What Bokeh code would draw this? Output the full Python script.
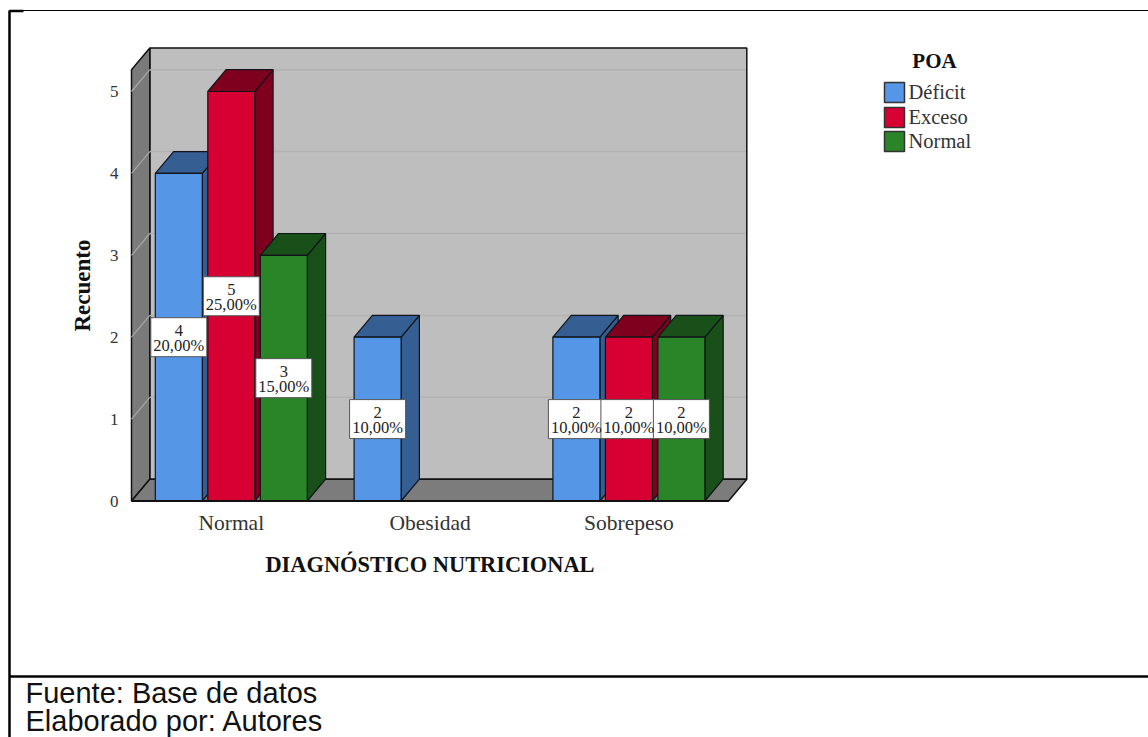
from bokeh.plotting import figure
from bokeh.models import LinearAxis, FixedTicker, Range1d, ColumnDataSource
from bokeh.core.properties import value
from bokeh.embed import file_html
from bokeh.resources import INLINE

# Survey counts by nutritional diagnosis and POA group
categories = ["Normal", "Obesidad", "Sobrepeso"]
series_names = ["Déficit", "Exceso", "Normal"]
deficit = [4, 2, 2]
exceso = [5, 0, 2]
normal = [3, 0, 2]
total = 20
y_ticks = [0, 1, 2, 3, 4, 5]
x_title = "DIAGNÓSTICO NUTRICIONAL"
y_title = "Recuento"
legend_title = "POA"
footer_lines = ["Fuente: Base de datos", "Elaborado por: Autores"]

W, H = 1148, 737
PX_PER_CAT = 198.8
PX_PER_UNIT = 81.9
X0_PX = 230.8   # pixel column of the first category
Y0_PX = 500.5   # pixel row of value 0
SERIF = "Liberation Serif"


def dx(px):
    return (px - X0_PX) / PX_PER_CAT


def dy(py):
    return (Y0_PX - py) / PX_PER_UNIT


BAR_STEP = 52.5 / PX_PER_CAT
BAR_W = 47.0 / PX_PER_CAT
DEPTH_X = 18.3 / PX_PER_CAT
DEPTH_Y = 21.8 / PX_PER_UNIT
WALL_LEFT = dx(131)
WALL_RIGHT = dx(728)
WALL_TOP = 5.265

p = figure(width=W, height=H, output_backend="svg", toolbar_location=None,
           x_range=Range1d(dx(0), dx(W)), y_range=Range1d(dy(H), dy(0)),
           x_axis_location=None, y_axis_location=None,
           min_border=0, outline_line_color=None, background_fill_color="white")
p.xgrid.visible = False
p.ygrid.visible = False

# Chart box walls
p.patch([WALL_LEFT + DEPTH_X, WALL_RIGHT + DEPTH_X, WALL_RIGHT + DEPTH_X, WALL_LEFT + DEPTH_X],
        [DEPTH_Y, DEPTH_Y, WALL_TOP + DEPTH_Y, WALL_TOP + DEPTH_Y],
        fill_color="#BEBEBE", line_color="#111111", line_width=1.5)
p.patch([WALL_LEFT, WALL_LEFT + DEPTH_X, WALL_LEFT + DEPTH_X, WALL_LEFT],
        [0, DEPTH_Y, WALL_TOP + DEPTH_Y, WALL_TOP],
        fill_color="#7A7A7A", line_color="#111111", line_width=1.5)
p.patch([WALL_LEFT, WALL_LEFT + DEPTH_X, WALL_RIGHT + DEPTH_X, WALL_RIGHT],
        [0, DEPTH_Y, DEPTH_Y, 0],
        fill_color="#7C7C7C", line_color="#111111", line_width=1.5)

# Gridlines across the back wall and down the left wall
grid_values = [t for t in y_ticks if t > 0]
p.segment([WALL_LEFT + DEPTH_X] * 5, [t + DEPTH_Y for t in grid_values],
          [WALL_RIGHT + DEPTH_X - 0.004] * 5, [t + DEPTH_Y for t in grid_values],
          line_color="#B2B2B2", line_width=1.5)
p.segment([WALL_LEFT] * 5, grid_values,
          [WALL_LEFT + DEPTH_X] * 5, [t + DEPTH_Y for t in grid_values],
          line_color="#A8A8A8", line_width=1.2)

# Extruded bars, painted left to right so each front covers its neighbour's side
series = [
    (deficit, "#5596E6", "#355E93"),
    (exceso, "#D60032", "#7F001E"),
    (normal, "#2A8428", "#194F18"),
]
EDGE = "#101418"
label_x, label_y, label_n, label_pct = [], [], [], []
for ci in range(len(categories)):
    for si, (vals, face, dark) in enumerate(series):
        v = vals[ci]
        if v == 0:
            continue
        xc = ci + (si - 1) * BAR_STEP
        x1, x2 = xc - BAR_W / 2, xc + BAR_W / 2
        p.patch([x2, x2 + DEPTH_X, x2 + DEPTH_X, x2], [0, DEPTH_Y, v + DEPTH_Y, v],
                fill_color=dark, line_color=EDGE, line_width=1.2)
        p.patch([x1, x1 + DEPTH_X, x2 + DEPTH_X, x2], [v, v + DEPTH_Y, v + DEPTH_Y, v],
                fill_color=dark, line_color=EDGE, line_width=1.2)
        p.quad(left=x1, right=x2, bottom=0, top=v,
               fill_color=face, line_color=EDGE, line_width=1.2)
        label_x.append(xc)
        label_y.append(v / 2)
        label_n.append(str(v))
        label_pct.append(f"{v / total * 100:.2f}%".replace(".", ","))

# Front edge of the floor
p.segment([WALL_LEFT], [0], [WALL_RIGHT], [0], line_color="#111111", line_width=2)

# Value labels centred on each bar
src = ColumnDataSource(dict(x=label_x, y=label_y, n=label_n, pct=label_pct))
p.rect("x", "y", width=56, height=39, width_units="screen", height_units="screen",
       source=src, fill_color="white", line_color="#555555", line_width=1)
for col, off in (("n", -7), ("pct", 8)):
    p.text("x", "y", text=col, source=src, text_font=value(SERIF),
           text_font_size="16.5px", text_color="#222222", text_align="center",
           text_baseline="middle", y_offset=off)

# Axes: bounds keep each title centred on the front edge of the box
y_axis = LinearAxis(fixed_location=WALL_LEFT, ticker=FixedTicker(ticks=y_ticks),
                    bounds=(0, WALL_TOP),
                    axis_line_color=None, major_tick_line_color=None,
                    minor_tick_line_color=None, major_label_standoff=7,
                    major_label_text_font=SERIF, major_label_text_font_size="17px",
                    major_label_text_color="#333333",
                    axis_label=y_title, axis_label_text_font=SERIF,
                    axis_label_text_font_size="23px", axis_label_text_font_style="bold",
                    axis_label_text_color="#111111", axis_label_standoff=12)
p.add_layout(y_axis, "left")
x_axis = LinearAxis(fixed_location=0, ticker=FixedTicker(ticks=list(range(len(categories)))),
                    bounds=(WALL_LEFT, WALL_RIGHT),
                    major_label_overrides={i: c for i, c in enumerate(categories)},
                    axis_line_color=None, major_tick_line_color=None,
                    minor_tick_line_color=None, major_label_standoff=4,
                    major_label_text_font=SERIF, major_label_text_font_size="21.5px",
                    major_label_text_color="#333333",
                    axis_label=x_title, axis_label_text_font=SERIF,
                    axis_label_text_font_size="22.4px", axis_label_text_font_style="bold",
                    axis_label_text_color="#111111", axis_label_standoff=13)
p.add_layout(x_axis, "below")

# Legend keys and entries
p.text([dx(934)], [dy(60)], text=[legend_title], text_font=value(SERIF),
       text_font_size="21px", text_font_style="bold", text_color="#111111",
       text_align="center", text_baseline="middle")
rows = [92, 117, 141]
p.rect([dx(894)] * 3, [dy(r) for r in rows], width=20, height=20,
       width_units="screen", height_units="screen",
       fill_color=[s[1] for s in series], line_color="#333333", line_width=1.5)
p.text([dx(908)] * 3, [dy(r - 1) for r in rows], text=series_names,
       text_font=value(SERIF), text_font_size="20.5px", text_color="#333333",
       text_baseline="middle")

# Table rules around the figure and the source note
p.segment([dx(9), dx(9), dx(9), dx(9)], [dy(10), dy(10), dy(10.5), dy(676)],
          [dx(W), dx(9), dx(23), dx(W)], [dy(10), dy(H), dy(10.5), dy(676)],
          line_color="black", line_width=[1, 2.5, 2.5, 2.5])
p.text([dx(25)] * 2, [dy(692.5), dy(720)], text=footer_lines,
       text_font=value("Liberation Sans"), text_font_size="29px", text_color="#111111",
       text_baseline="middle")

open("out.html", "w").write(file_html(p, INLINE))
